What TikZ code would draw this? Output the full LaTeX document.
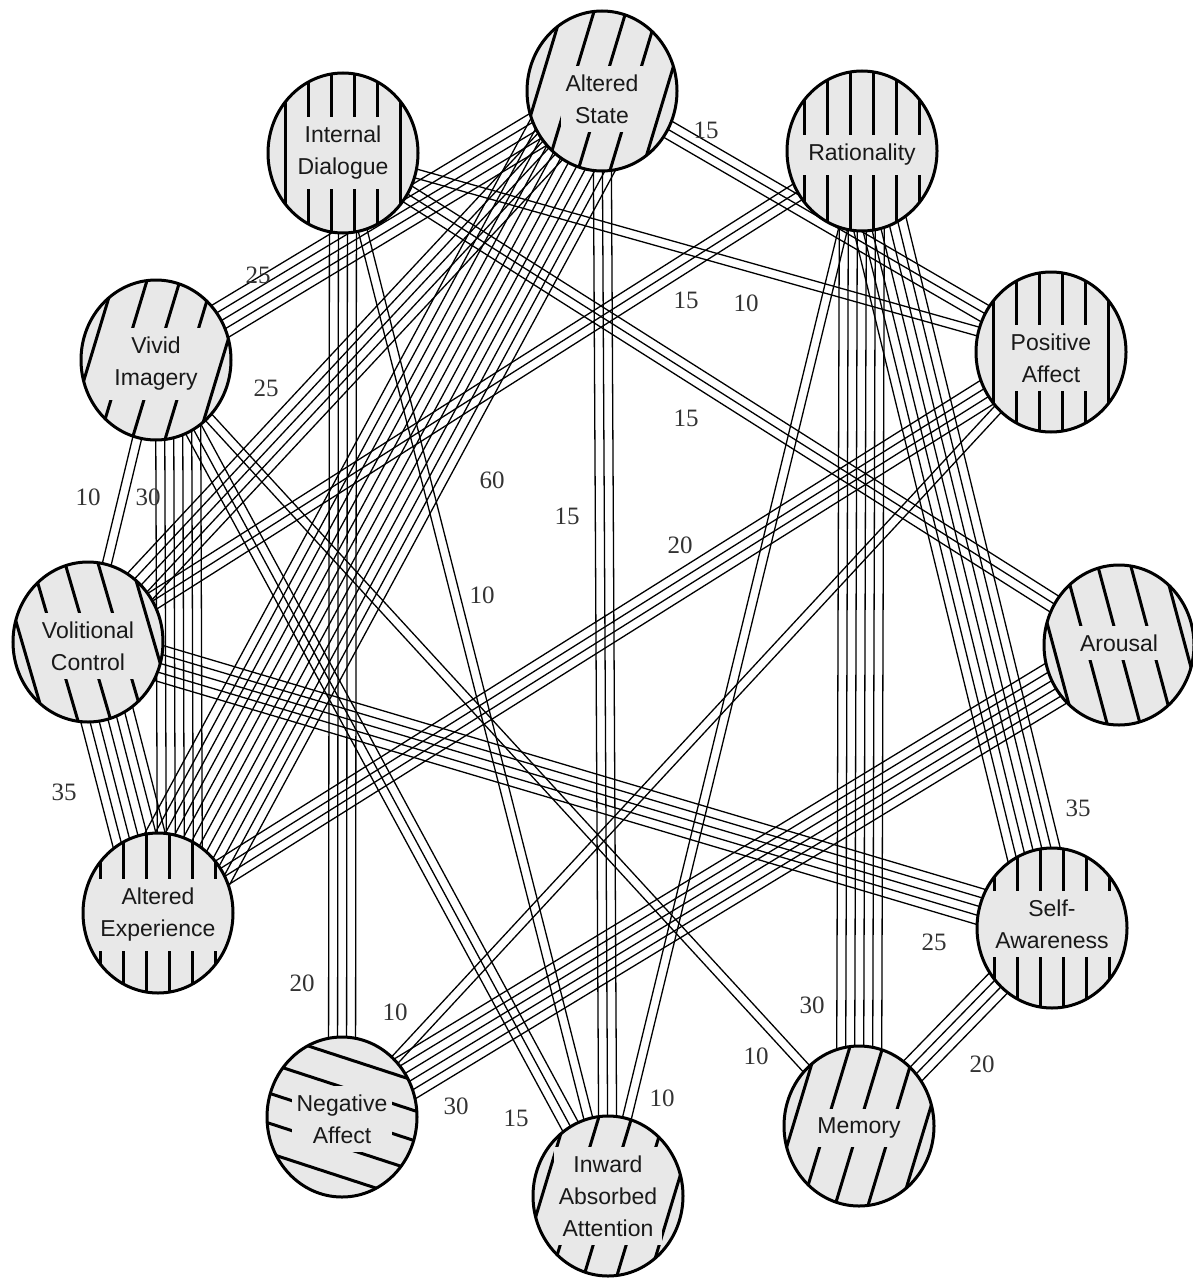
\documentclass[tikz,border=0pt]{standalone}
\usepackage{fontspec}
\setmainfont{Liberation Serif}
\newfontfamily\sansnode{Liberation Sans}
\usetikzlibrary{calc}
\tikzset{
  bund/.style={line width=1.3pt, black},
  hatchl/.style={line width=3pt, black},
  cborder/.style={line width=3pt, black},
  txt/.style={font=\sansnode\fontsize{23}{32}\selectfont, align=center, fill=black!9, inner xsep=5pt, inner ysep=9pt, text=black!90},
  lab/.style={font=\fontsize{25}{25}\selectfont, text=black!80, inner sep=1pt},
}
\newcommand\bsp{9}
\newcommand\bundle[4]{%
  \foreach \i in {1,...,#3}{%
    \pgfmathsetmacro\off{(\i-(#3+1)/2)*\bsp+#4}%
    \draw[bund] ($(#1)!\off pt!90:(#2)$) -- ($(#2)!\off pt!-90:(#1)$);
  }}
\begin{document}
\begin{tikzpicture}[x=1pt,y=-1pt]
\fill[white] (0,0) rectangle (1193,1279);
\useasboundingbox (0,0) rectangle (1193,1279);
% centres
\coordinate (cAS) at (602,91);
\coordinate (cID) at (343,153);
\coordinate (cRat) at (862,151);
\coordinate (cVI) at (156,360);
\coordinate (cPA) at (1051,352);
\coordinate (cVC) at (88,642);
\coordinate (cAr) at (1119,645);
\coordinate (cAE) at (158,913);
\coordinate (cSA) at (1052,928);
\coordinate (cNA) at (342,1117);
\coordinate (cIAA) at (608,1196);
\coordinate (cMem) at (859,1126);
% bundles
\bundle{cAS}{cPA}{3}{0}
\bundle{cVI}{cAS}{5}{0}
\bundle{cAS}{cVC}{5}{0}
\bundle{cRat}{cVC}{3}{0}
\bundle{cID}{cPA}{2}{0}
\bundle{cID}{cAr}{3}{0}
\bundle{cVI}{cVC}{2}{0}
\bundle{cVI}{cAE}{6}{22}
\bundle{cAS}{cAE}{12}{0}
\bundle{cAS}{cIAA}{3}{0}
\bundle{cPA}{cAE}{4}{0}
\bundle{cID}{cIAA}{2}{0}
\bundle{cVC}{cAE}{7}{0}
\bundle{cRat}{cSA}{7}{0}
\bundle{cVC}{cSA}{5}{0}
\bundle{cID}{cNA}{4}{0}
\bundle{cPA}{cNA}{2}{0}
\bundle{cAr}{cNA}{6}{0}
\bundle{cVI}{cMem}{2}{0}
\bundle{cMem}{cSA}{4}{0}
\bundle{cVI}{cIAA}{3}{0}
\bundle{cRat}{cIAA}{2}{0}
\bundle{cRat}{cMem}{6}{0}
% circles
\foreach \nm/\cx/\cy/\ty/\ux/\uy/\px/\py/\ph/\txt in {
  AS/602/91/8/0.29/-0.96/32/0/0/{Altered\\State},
  ID/343/153/0/0/1/23/0/0.5/{Internal\\Dialogue},
  Rat/862/151/4/0/1/23/0/0.5/{Rationality},
  VI/156/360/4/0.29/-0.96/33/0/0/{Vivid\\Imagery},
  PA/1051/352/6/0/1/23/0/0.5/{Positive\\Affect},
  VC/88/642/4/-0.28/-0.96/33/0/0/{Volitional\\Control},
  Ar/1119/645/-2/-0.26/-0.97/33/0/0/{Arousal},
  AE/158/913/2/0/1/23/0/0.5/{Altered\\Experience},
  SA/1052/928/-4/0/1/23/0/0.5/{Self-\\Awareness},
  NA/342/1117/2/0.95/0.31/0/30/0/{Negative\\Affect},
  IAA/608/1196/0/0.29/-0.96/33/0/0/{Inward\\Absorbed\\Attention},
  Mem/859/1126/2/0.29/-0.96/33/0/0/{Memory}}
{
  \fill[black!9] (\cx,\cy) ellipse [x radius=75, y radius=80];
  \begin{scope}
    \clip (\cx,\cy) ellipse [x radius=75, y radius=80];
    \foreach \k in {-5,...,5}
      \draw[hatchl] ({\cx+(\k+\ph)*\px-100*\ux},{\cy+(\k+\ph)*\py-100*\uy}) -- ({\cx+(\k+\ph)*\px+100*\ux},{\cy+(\k+\ph)*\py+100*\uy});
  \end{scope}
  \node[txt] (\nm) at (\cx,\cy+\ty) {\txt};
  \draw[cborder] (\cx,\cy) ellipse [x radius=75, y radius=80];
}
% labels
\node[lab] (l1) at (706,130) {15};
\node[lab] (l2) at (258,275) {25};
\node[lab] (l3) at (266,388) {25};
\node[lab] (l4) at (686,300) {15};
\node[lab] (l5) at (746,303) {10};
\node[lab] (l6) at (686,418) {15};
\node[lab] (l7) at (88,497) {10};
\node[lab] (l8) at (148,497) {30};
\node[lab] (l9) at (492,480) {60};
\node[lab] (l10) at (567,516) {15};
\node[lab] (l11) at (680,545) {20};
\node[lab] (l12) at (482,595) {10};
\node[lab] (l13) at (64,792) {35};
\node[lab] (l14) at (1078,808) {35};
\node[lab] (l15) at (934,942) {25};
\node[lab] (l16) at (302,983) {20};
\node[lab] (l17) at (395,1012) {10};
\node[lab] (l18) at (456,1106) {30};
\node[lab] (l19) at (812,1005) {30};
\node[lab] (l20) at (756,1056) {10};
\node[lab] (l21) at (982,1064) {20};
\node[lab] (l22) at (516,1118) {15};
\node[lab] (l23) at (662,1098) {10};
\end{tikzpicture}
\end{document}
